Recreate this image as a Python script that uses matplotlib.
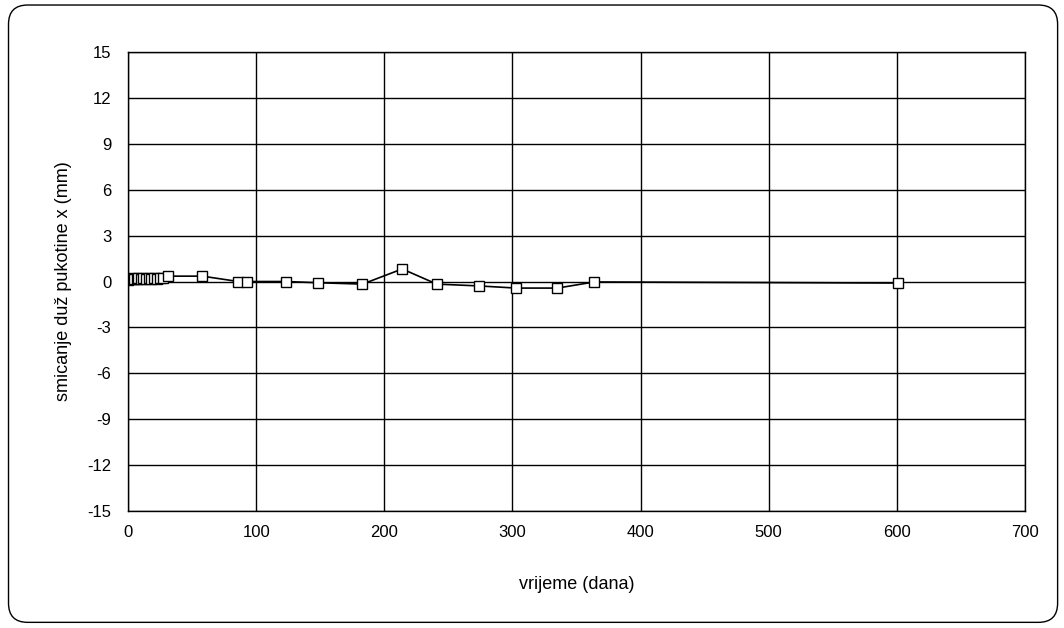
import matplotlib
matplotlib.use('Agg')
import matplotlib.pyplot as plt
from matplotlib.patches import FancyBboxPatch

plt.rcParams['font.family'] = ['Liberation Sans', 'DejaVu Sans']
plt.rcParams['axes.unicode_minus'] = False

# podaci (ocitano s grafa)
days = [0, 1, 2, 4, 5, 7, 8, 10, 12, 14, 16, 18, 20, 23, 25, 27,
        31, 58, 86, 93, 123, 148, 183, 214, 241, 274, 303, 335, 364, 601]
shift = [0.1, 0.15, 0.15, 0.2, 0.15, 0.15, 0.2, 0.15, 0.2, 0.15, 0.2, 0.15, 0.2, 0.15, 0.2, 0.2,
         0.35, 0.35, 0.0, 0.0, 0.0, -0.08, -0.17, 0.82, -0.17, -0.29, -0.43, -0.43, -0.03, -0.1]

x_ticks = [0, 100, 200, 300, 400, 500, 600, 700]
y_ticks = [-15, -12, -9, -6, -3, 0, 3, 6, 9, 12, 15]

fig = plt.figure(figsize=(10.64, 6.28), dpi=100)

# zaobljeni okvir oko cijelog grafa
frame = FancyBboxPatch((0.008, 0.009), 0.986, 0.983,
                       boxstyle='round,pad=0,rounding_size=0.018',
                       transform=fig.transFigure, fill=False,
                       edgecolor='black', linewidth=1.0, mutation_aspect=1.7)
fig.patches.append(frame)

ax = fig.add_axes([0.1203, 0.1863, 0.843, 0.7309])
ax.plot(days, shift, color='black', linewidth=1.2, marker='s', markersize=6.5,
        markerfacecolor='white', markeredgecolor='black', markeredgewidth=1.0,
        zorder=3)

ax.set_xlim(0, 700)
ax.set_ylim(-15, 15)
ax.set_xticks(x_ticks)
ax.set_yticks(y_ticks)
ax.grid(True, color='black', linewidth=1.0)
ax.set_axisbelow(True)
ax.tick_params(length=0, labelsize=12)
ax.tick_params(axis='y', pad=12)
ax.tick_params(axis='x', pad=10)
for s in ax.spines.values():
    s.set_linewidth(1.0)

ax.set_xlabel('vrijeme (dana)', fontsize=13, labelpad=26)
ax.set_ylabel('smicanje duž pukotine x (mm)', fontsize=13, labelpad=11)

fig.savefig('out.png', dpi=100)
